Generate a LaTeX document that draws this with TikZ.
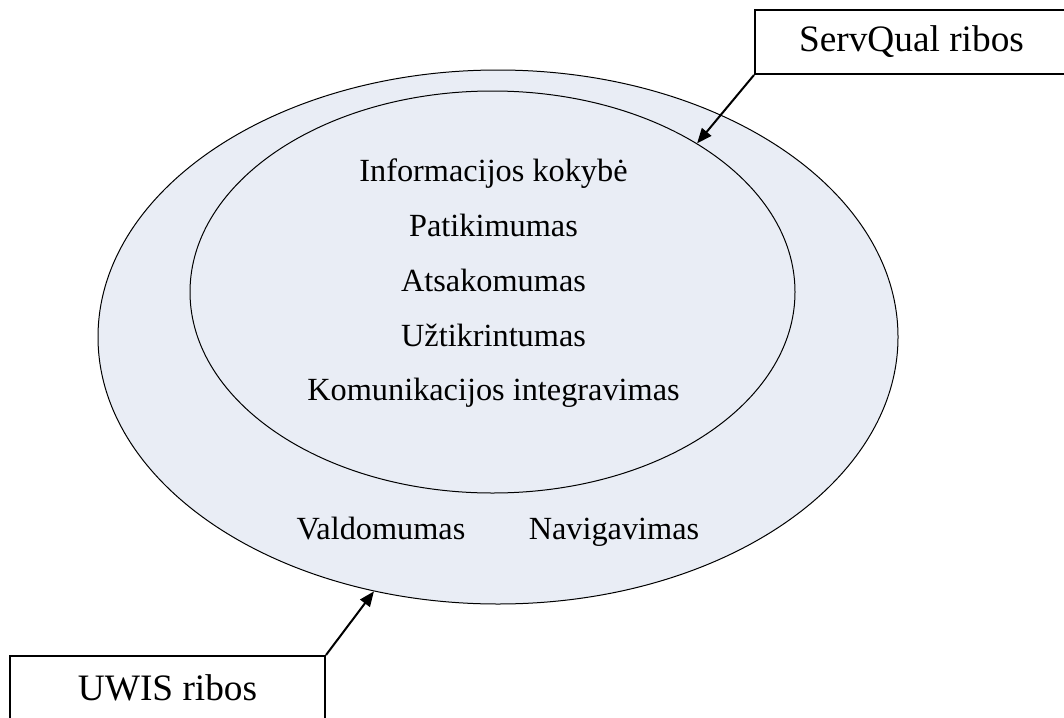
\documentclass[tikz,border=0pt]{standalone}
\usepackage{fontspec}
\setmainfont{Liberation Serif}
\usetikzlibrary{shapes.geometric,arrows.meta}
\definecolor{ringfill}{RGB}{233,237,245}
\begin{document}
\begin{tikzpicture}[x=1pt,y=-1pt,
  ring/.style={ellipse,draw=black,line width=1pt,fill=ringfill,inner sep=0pt},
  label/.style={font=\fontsize{32.3}{40}\selectfont,anchor=base,inner sep=0pt},
  boxlabel/.style={draw=black,line width=2pt,fill=white,inner sep=0pt,font=\fontsize{37.3}{44}\selectfont},
  arr/.style={line width=2pt,-{Triangle[length=15pt,width=12pt]}}]
\useasboundingbox (0,0) rectangle (1064,717);
\node[ring,minimum width=800pt,minimum height=534pt] (outer) at (498,337) {};
\node[ring,minimum width=605pt,minimum height=402pt] (inner) at (492.5,292) {};
\node[label] (t1) at (493.5,181.7) {Informacijos kokybė};
\node[label] (t2) at (493.5,236.7) {Patikimumas};
\node[label] (t3) at (493.5,291.7) {Atsakomumas};
\node[label] (t4) at (493.5,346) {Užtikrintumas};
\node[label] (t5) at (493.5,400.7) {Komunikacijos integravimas};
\node[label] (t6) at (381,539) {Valdomumas};
\node[label] (t7) at (614,539) {Navigavimas};
\node[boxlabel,minimum width=313pt,minimum height=64pt] (sq) at (911.5,42) {ServQual ribos};
\node[boxlabel,minimum width=315pt,minimum height=63pt] (uw) at (167.5,687.5) {UWIS ribos};
\draw[arr] (sq.south west) -- (inner.36.8);
\draw[arr] (uw.north east) -- (outer.244.6);
\end{tikzpicture}
\end{document}
